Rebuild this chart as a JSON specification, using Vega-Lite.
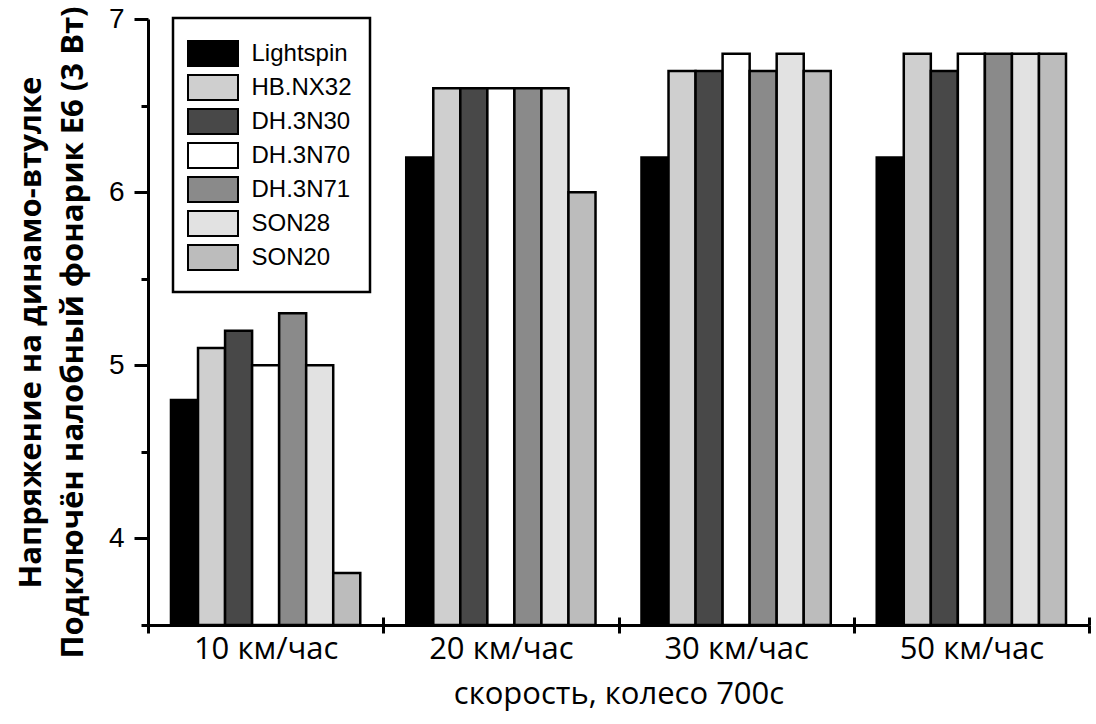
{
  "$schema": "https://vega.github.io/schema/vega-lite/v6.json",
  "width": 941,
  "height": 606,
  "autosize": {"type": "none"},
  "padding": {"left": 148, "top": 19, "right": 7, "bottom": 99},
  "background": "white",
  "config": {
    "view": {"stroke": null},
    "axis": {"grid": false, "domainColor": "black", "tickColor": "black", "labelColor": "black", "titleColor": "black"}
  },
  "data": {
    "values": [
      {"speed": "10 км/час", "hub": "Lightspin", "value": 4.8},
      {"speed": "10 км/час", "hub": "HB.NX32", "value": 5.1},
      {"speed": "10 км/час", "hub": "DH.3N30", "value": 5.2},
      {"speed": "10 км/час", "hub": "DH.3N70", "value": 5.0},
      {"speed": "10 км/час", "hub": "DH.3N71", "value": 5.3},
      {"speed": "10 км/час", "hub": "SON28", "value": 5.0},
      {"speed": "10 км/час", "hub": "SON20", "value": 3.8},
      {"speed": "20 км/час", "hub": "Lightspin", "value": 6.2},
      {"speed": "20 км/час", "hub": "HB.NX32", "value": 6.6},
      {"speed": "20 км/час", "hub": "DH.3N30", "value": 6.6},
      {"speed": "20 км/час", "hub": "DH.3N70", "value": 6.6},
      {"speed": "20 км/час", "hub": "DH.3N71", "value": 6.6},
      {"speed": "20 км/час", "hub": "SON28", "value": 6.6},
      {"speed": "20 км/час", "hub": "SON20", "value": 6.0},
      {"speed": "30 км/час", "hub": "Lightspin", "value": 6.2},
      {"speed": "30 км/час", "hub": "HB.NX32", "value": 6.7},
      {"speed": "30 км/час", "hub": "DH.3N30", "value": 6.7},
      {"speed": "30 км/час", "hub": "DH.3N70", "value": 6.8},
      {"speed": "30 км/час", "hub": "DH.3N71", "value": 6.7},
      {"speed": "30 км/час", "hub": "SON28", "value": 6.8},
      {"speed": "30 км/час", "hub": "SON20", "value": 6.7},
      {"speed": "50 км/час", "hub": "Lightspin", "value": 6.2},
      {"speed": "50 км/час", "hub": "HB.NX32", "value": 6.8},
      {"speed": "50 км/час", "hub": "DH.3N30", "value": 6.7},
      {"speed": "50 км/час", "hub": "DH.3N70", "value": 6.8},
      {"speed": "50 км/час", "hub": "DH.3N71", "value": 6.8},
      {"speed": "50 км/час", "hub": "SON28", "value": 6.8},
      {"speed": "50 км/час", "hub": "SON20", "value": 6.8}
    ]
  },
  "layer": [
    {
      "mark": {"type": "bar", "stroke": "black", "strokeWidth": 2.5},
      "encoding": {
        "x": {
          "field": "speed", "type": "nominal",
          "sort": ["10 км/час", "20 км/час", "30 км/час", "50 км/час"],
          "scale": {"paddingInner": 0, "paddingOuter": 0},
          "axis": {
            "orient": "bottom",
            "tickBand": "extent",
            "labelAngle": 0,
            "domainWidth": 3,
            "tickWidth": 3,
            "tickSize": 8,
            "labelFont": "Open Sans",
            "labelFontSize": 31,
            "labelBaseline": "alphabetic",
            "labelPadding": 25,
            "title": "скорость, колесо 700с",
            "titleFont": "Open Sans",
            "titleFontSize": 31,
            "titleFontWeight": "normal",
            "titleBaseline": "alphabetic",
            "titleY": 78
          }
        },
        "xOffset": {
          "field": "hub", "type": "nominal",
          "sort": ["Lightspin", "HB.NX32", "DH.3N30", "DH.3N70", "DH.3N71", "SON28", "SON20"],
          "scale": {"paddingInner": 0, "paddingOuter": 0.85}
        },
        "y": {
          "field": "value", "type": "quantitative",
          "scale": {"domain": [3.5, 7], "zero": false, "nice": false},
          "axis": {
            "orient": "left",
            "values": [3.5, 4, 4.5, 5, 5.5, 6, 6.5, 7],
            "labelExpr": "datum.value % 1 === 0 ? format(datum.value, 'd') : ''",
            "domainWidth": 3,
            "tickWidth": 3,
            "tickSize": {"condition": {"test": "datum.value % 1 === 0", "value": 14}, "value": 7},
            "labelFont": "Liberation Sans",
            "labelFontSize": 28,
            "labelPadding": 10,
            "labelBaseline": "middle",
            "title": ["       Напряжение на динамо-втулке", "Подключён налобный фонарик E6 (3 Вт)"],
            "titleFont": "Open Sans",
            "titleFontSize": 31,
            "titleFontWeight": "bold",
            "titleLineHeight": 42,
            "titleAngle": -90,
            "titleAlign": "center",
            "titleBaseline": "alphabetic",
            "titleX": -108,
            "titleY": 313
          }
        },
        "y2": {"datum": 3.5},
        "fill": {
          "field": "hub", "type": "nominal",
          "sort": ["Lightspin", "HB.NX32", "DH.3N30", "DH.3N70", "DH.3N71", "SON28", "SON20"],
          "scale": {
            "domain": ["Lightspin", "HB.NX32", "DH.3N30", "DH.3N70", "DH.3N71", "SON28", "SON20"],
            "range": ["#000000", "#cfcfcf", "#484848", "#ffffff", "#8a8a8a", "#e2e2e2", "#bcbcbc"]
          },
          "legend": {
            "title": null,
            "orient": "none",
            "legendX": 25,
            "legendY": -1,
            "symbolType": "M-1.5385,-0.7692H1.5385V0.7692H-1.5385Z",
            "symbolSize": 1056,
            "symbolOffset": 4.5,
            "symbolStrokeColor": "black",
            "symbolStrokeWidth": 2,
            "symbolOpacity": 1,
            "labelFont": "Liberation Sans",
            "labelFontSize": 24,
            "labelColor": "black",
            "labelOffset": 21,
            "rowPadding": 0,
            "padding": 18,
            "strokeColor": "black",
            "fillColor": "white",
            "encode": {"legend": {"update": {"strokeWidth": {"value": 2.5}}}}
          }
        }
      }
    },
    {
      "mark": {"type": "bar", "opacity": 0},
      "encoding": {
        "x": {
          "field": "speed", "type": "nominal",
          "sort": ["10 км/час", "20 км/час", "30 км/час", "50 км/час"],
          "axis": {
            "orient": "bottom",
            "tickBand": "extent",
            "domain": false,
            "labels": false,
            "title": null,
            "tickWidth": 3,
            "tickSize": -8
          }
        },
        "y": {"field": "value", "type": "quantitative"},
        "y2": {"datum": 3.5}
      }
    }
  ],
  "resolve": {"axis": {"x": "independent"}}
}
